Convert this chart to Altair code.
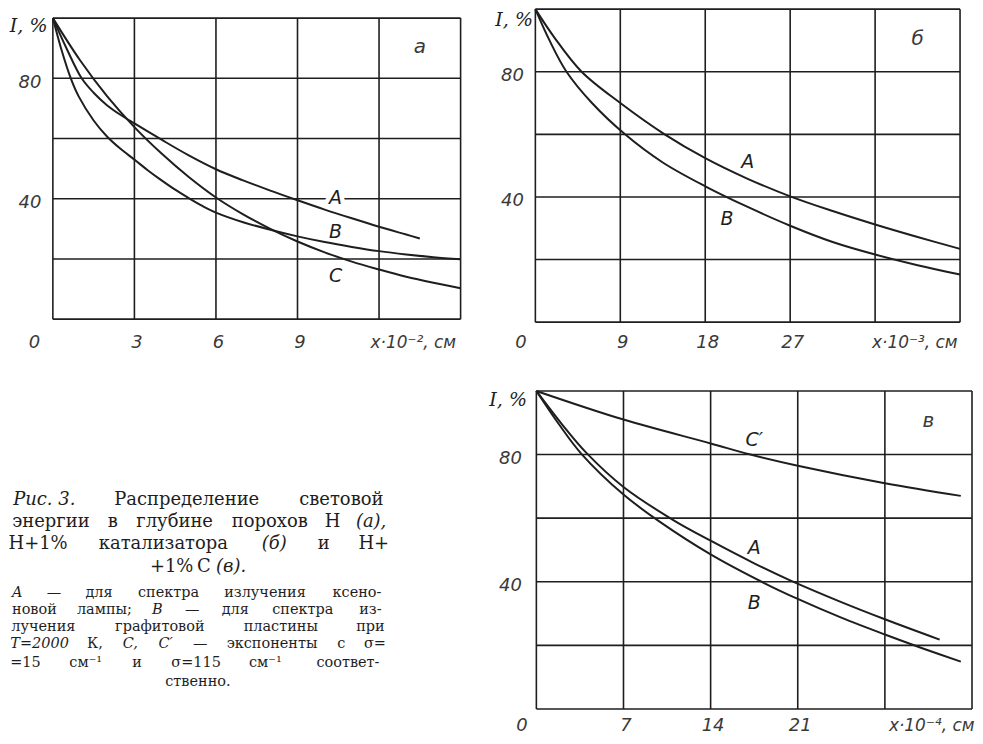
import altair as alt
import pandas as pd

INK = "#1e1e1e"
LBL = "#3a3a3a"
SANS = "DejaVu Sans"
SERIF = "DejaVu Serif"

# ---------------- Panel а  (x·10^-2 см) ----------------
a_A_x = [0, 0.5, 1.06, 1.5, 2, 2.5, 3, 4, 5, 6, 7, 8, 9, 10, 11, 12, 13, 13.5]
a_A_y = [100, 90, 80, 75.2, 71, 67.8, 65, 59.6, 54.4, 49.8, 46.1, 42.7, 39.5, 36.4, 33.5, 30.7, 28.1, 26.8]
a_B_x = [0, 0.3, 0.66, 0.95, 1.5, 2, 2.5, 3, 3.5, 4, 4.5, 5, 5.5, 6, 7, 8, 9, 10, 11, 12, 13, 14, 15]
a_B_y = [100, 90, 80, 74, 66, 60.6, 56.5, 53, 49.4, 46.1, 43, 40.2, 37.6, 35.4, 32.2, 29.7, 27.5, 25.6, 24, 22.6, 21.5, 20.6, 19.9]
a_C_x = [0, 1, 2, 3, 4, 5, 6, 7, 8, 9, 10, 11, 12, 13, 14, 15]
a_C_y = [100, 86, 74, 63.8, 55, 47.2, 40.4, 34.8, 30, 25.8, 22.2, 19.1, 16.5, 14.1, 12.1, 10.3]
a_grid_x = [0, 3, 6, 9, 12, 15]
a_show_x = [0, 3, 6, 9]
a_labels = ["A", "B", "C"]
a_label_x = [10.4, 10.4, 10.4]
a_label_y = [40.4, 29.1, 14.2]

# ---------------- Panel б  (x·10^-3 см) ----------------
b_A_x = [0, 2, 4.9, 9, 13.7, 18, 22.5, 27, 31.5, 36, 40.5, 45]
b_A_y = [100, 91, 80, 70, 60, 52.4, 45.8, 40.2, 35.5, 31.2, 27.2, 23.4]
b_B_x = [0, 1.5, 3.3, 6, 9.5, 13.5, 18, 22.5, 27, 31.5, 36, 40.5, 45]
b_B_y = [100, 90, 80, 70, 60, 51, 43.4, 36.8, 30.8, 25.6, 21.6, 18.2, 15.2]
b_grid_x = [0, 9, 18, 27, 36, 45]
b_show_x = [0, 9, 18, 27]
b_labels = ["A", "B"]
b_label_x = [22.5, 20.3]
b_label_y = [51.3, 32.8]

# ---------------- Panel в  (x·10^-4 см) ----------------
c_Cp_x = [0, 7, 14, 17.2, 21, 28, 34.1]
c_Cp_y = [100, 91, 83.5, 80, 76.5, 71, 67]
c_A_x = [0, 2, 4, 7, 11, 14, 17.5, 20.3, 24.5, 28, 32.4]
c_A_y = [100, 89.8, 80.6, 69.8, 59.4, 52.9, 45.8, 40.6, 33.6, 28.2, 21.8]
c_B_x = [0, 1.8, 3.6, 7, 9.9, 14, 18.3, 21, 24.5, 28, 31, 34.1]
c_B_y = [100, 89.6, 80.3, 67.4, 58.9, 48.6, 39.6, 34.6, 28.7, 23.4, 19.1, 14.9]
c_grid_x = [0, 7, 14, 21, 28, 35]
c_show_x = [0, 7, 14, 21]
c_labels = ["C\u2032", "A", "B"]
c_label_x = [17.5, 17.5, 17.5]
c_label_y = [84.7, 50.5, 33.3]

y_grid = [0, 20, 40, 60, 80, 100]
y_show = [40, 80]

# ---------------- Caption ----------------
cap_main = ["Рис.\u00a03. Распределение световой",
            "энергии в глубине порохов Н (а),",
            "Н+1% катализатора (б) и Н+",
            "+1% С (в)."]
cap_small = ["A — для спектра излучения ксено-",
             "новой лампы; B — для спектра из-",
             "лучения графитовой пластины при",
             "T=2000 К, C, C\u2032 — экспоненты с σ=",
             "=15 см\u207b\u00b9 и σ=115 см\u207b\u00b9 соответ-",
             "ственно."]
cap_italic = ["Рис.\u00a03.", "A", "B", "T=2000", "C,", "C\u2032", "(а),", "(б)", "(в)."]


def char_w(ch):
    if ch in ".,;:()'\u2032 \u00b9\u00a0":
        return 0.34
    if ch in "\u2014%":
        return 0.95
    if ch.isupper():
        return 0.72
    if ch in "\u207b":
        return 0.45
    return 0.62


def word_w(w, fs):
    return sum(char_w(c) for c in w) * fs


def justify(lines, fs, left, right, rows_px):
    out = []
    for li, line in enumerate(lines):
        words = line.split(" ")
        last = li == len(lines) - 1
        ws = [word_w(w, fs) for w in words]
        if last:
            gap = 0.34 * fs
            total = sum(ws) + gap * (len(words) - 1)
            start = (left + right) / 2 - total / 2
        else:
            gap = (right - left - sum(ws)) / (len(words) - 1)
            start = left
        xpos = start
        for wi, w in enumerate(words):
            out.append({"t": w, "px": xpos + ws[wi] / 2, "py": rows_px[li],
                        "it": w in cap_italic, "fs": fs})
            xpos += ws[wi] + gap
    return out


def panel(series, xmax, grid_x, show_x, xtitle, letter, lab, lab_x, lab_y,
          w, h, ytop, zero_off, ytitle_x, ytitle_y, ylab_pad, xtitle_dx, xlab_pad,
          gap_label=None):
    rows = []
    for name, xs, ys in series:
        for xv, yv in zip(xs, ys):
            rows.append({"s": name, "x": xv, "y": yv})
    df = pd.DataFrame(rows)
    xs = alt.Scale(domain=[0, xmax], nice=False, zero=True)
    ys = alt.Scale(domain=[0, ytop], nice=False)
    xaxis = alt.Axis(
        values=show_x, grid=False, domain=False, ticks=False,
        labelFont=SANS, labelFontStyle="italic", labelFontSize=18, labelColor=LBL,
        labelPadding=xlab_pad, labelBaseline="middle", labelFlush=False, labelOverlap=False,
        labelOffset={"condition": {"test": "datum.value === 0", "value": zero_off}, "value": 2},
        title=xtitle, titleX=w + xtitle_dx, titleY=xlab_pad, titleAlign="right",
        titleBaseline="middle", titleFont=SANS, titleFontStyle="italic",
        titleFontWeight="normal", titleFontSize=17, titleColor=LBL)
    yaxis = alt.Axis(
        values=y_show, grid=False, domain=False, ticks=False,
        labelFont=SANS, labelFontStyle="italic", labelFontSize=18, labelColor=LBL,
        labelPadding=ylab_pad, labelOffset=4, labelOverlap=False, labelFlush=False,
        title="I, %", titleAngle=0, titleX=ytitle_x, titleY=ytitle_y, titleAlign="right",
        titleBaseline="middle", titleFont=SERIF, titleFontStyle="italic",
        titleFontWeight="normal", titleFontSize=19, titleColor=INK)

    vgrid = pd.DataFrame({"x": grid_x, "y": [0] * len(grid_x), "y2": [100] * len(grid_x)})
    hgrid = pd.DataFrame({"y": y_grid, "x": [0] * len(y_grid), "x2": [xmax] * len(y_grid)})
    vr = alt.Chart(vgrid).mark_rule(color=INK, strokeWidth=1.6).encode(
        x=alt.X("x:Q", scale=xs, axis=xaxis), y=alt.Y("y:Q", scale=ys, axis=yaxis), y2="y2:Q")
    hr = alt.Chart(hgrid).mark_rule(color=INK, strokeWidth=1.6).encode(
        y=alt.Y("y:Q", scale=ys), x=alt.X("x:Q", scale=xs), x2="x2:Q")
    lines = alt.Chart(df).mark_line(interpolate="catmull-rom", color=INK, strokeWidth=2).encode(
        x=alt.X("x:Q", scale=xs), y=alt.Y("y:Q", scale=ys), detail="s:N")
    ldf = pd.DataFrame({"t": lab, "x": lab_x, "y": lab_y})
    texts = alt.Chart(ldf).mark_text(font=SANS, fontStyle="italic", fontSize=19,
                                     color=INK, baseline="middle").encode(
        x=alt.X("x:Q", scale=xs), y=alt.Y("y:Q", scale=ys), text="t:N")
    letter_df = pd.DataFrame({"t": [letter], "x": [xmax * 0.9], "y": [90.5]})
    let = alt.Chart(letter_df).mark_text(font=SANS, fontStyle="italic", fontSize=20,
                                         color=LBL, baseline="middle").encode(
        x=alt.X("x:Q", scale=xs), y=alt.Y("y:Q", scale=ys), text="t:N")
    layers = [vr, hr]
    if gap_label is not None:
        gdf = ldf[ldf.t == gap_label]
        halo = alt.Chart(gdf).mark_text(font=SANS, fontStyle="italic", fontSize=19,
                                        color="white", stroke="white", strokeWidth=9,
                                        baseline="middle").encode(
            x=alt.X("x:Q", scale=xs), y=alt.Y("y:Q", scale=ys), text="t:N")
        layers.append(halo)
    layers += [lines, texts, let]
    return alt.layer(*layers).properties(width=w, height=h)


# panel а: its frame sits 9 px lower than panel б's; the plot area is taller and
# the value axis runs past 100 so that 100 % lands on the frame.
pa = panel([("A", a_A_x, a_A_y), ("B", a_B_x, a_B_y), ("C", a_C_x, a_C_y)],
           15, a_grid_x, a_show_x, "x·10\u207b\u00b2, см", "а", a_labels, a_label_x, a_label_y,
           409, 311, 100 * 311 / 302, -19, -6, 16, 12, -5, 23, gap_label="A")
pb = panel([("A", b_A_x, b_A_y), ("B", b_B_x, b_B_y)],
           45, b_grid_x, b_show_x, "x·10\u207b\u00b3, см", "б", b_labels, b_label_x, b_label_y,
           426, 314, 100, -15, -3, 10, 12, -3, 20)
pc = panel([("C'", c_Cp_x, c_Cp_y), ("A", c_A_x, c_A_y), ("B", c_B_x, c_B_y)],
           35, c_grid_x, c_show_x, "x·10\u207b\u2074, см", "в", c_labels, c_label_x, c_label_y,
           437, 319, 100, -15, -10, 9, 15, 2, 17)

# caption chart: its origin shares the x of panel а's frame and the y of panel в's frame
OX = 54
OY = 388
CAP_W = 400
CAP_H = 319
cap_rows = justify(cap_main, 18, 13 - OX, 388 - OX, [y - OY for y in [497, 519.5, 542, 564.5]]) + \
    justify(cap_small, 14.5, 13 - OX, 386 - OX, [y - OY for y in [591, 608, 625, 642, 661, 680]])
cdf = pd.DataFrame(cap_rows)
pxs = alt.Scale(domain=[0, CAP_W], range=[0, CAP_W])
pys = alt.Scale(domain=[0, CAP_H], range=[0, CAP_H])
cap_layers = []
for fs in (18, 14.5):
    for it in (False, True):
        sub = cdf[(cdf.fs == fs) & (cdf.it == it)]
        if len(sub) == 0:
            continue
        kw = dict(align="center", baseline="middle", font=SERIF, fontSize=fs, color=INK)
        if it:
            kw["fontStyle"] = "italic"
        cap_layers.append(alt.Chart(sub).mark_text(**kw).encode(
            x=alt.X("px:Q", scale=pxs, axis=None),
            y=alt.Y("py:Q", scale=pys, axis=None), text="t:N"))
caption = alt.layer(*cap_layers).properties(width=CAP_W, height=CAP_H)

top = alt.hconcat(pa, pb, spacing=28)
bottom = alt.hconcat(caption, pc, spacing=35)
chart = alt.vconcat(top, bottom, spacing=34).properties(
    padding={"left": 0, "top": -5, "right": 0, "bottom": 0},
    background="white").configure_view(stroke="transparent")

chart.save("out.html", embed_options={"renderer": "svg", "actions": False})
